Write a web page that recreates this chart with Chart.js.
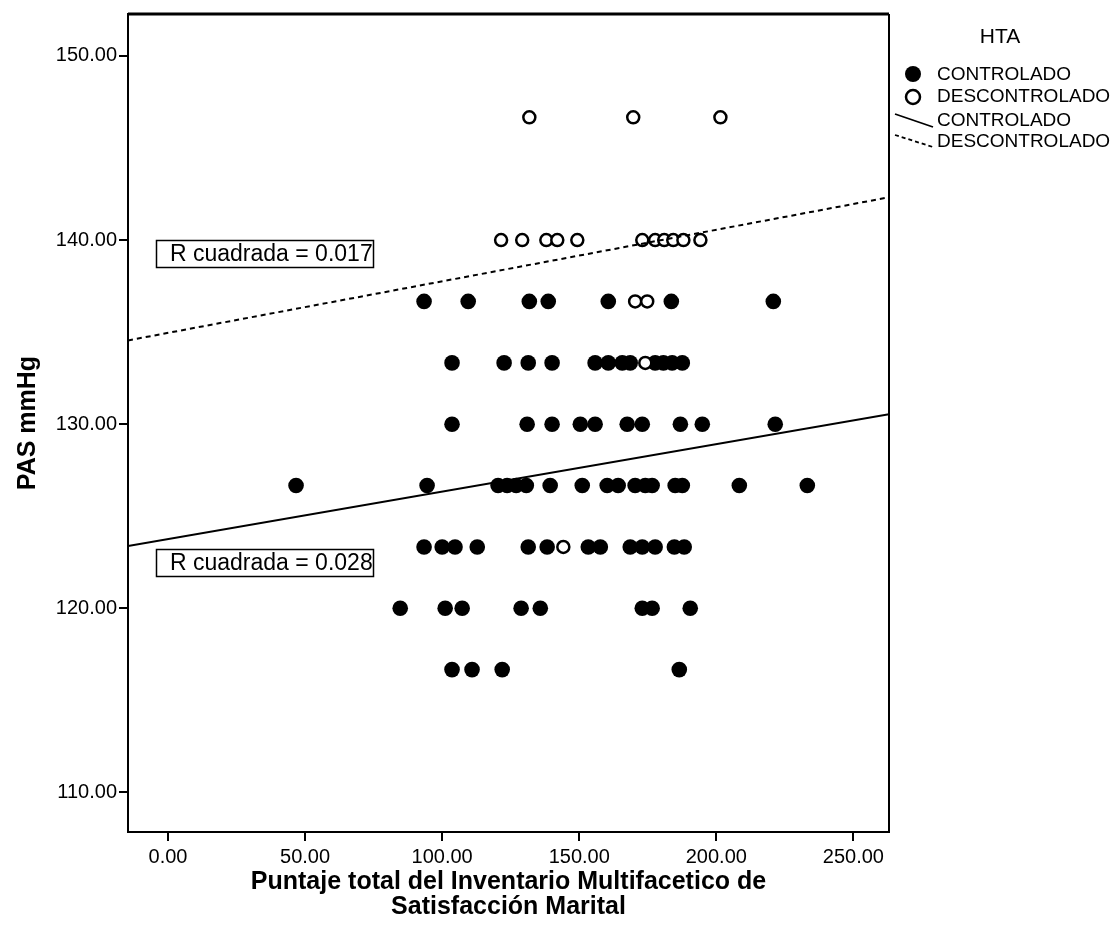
<!DOCTYPE html>
<html>
<head>
<meta charset="utf-8">
<script src="https://cdn.jsdelivr.net/npm/chart.js@4.4.0/dist/chart.umd.min.js"></script>
<style>
html,body{margin:0;padding:0;background:#ffffff;}
#wrap{width:1114px;height:945px;position:relative;}
</style>
</head>
<body>
<div id="wrap"><canvas id="c" width="1114" height="945"></canvas></div>
<script>
// ---------- DATA ----------
const groupNames = ['CONTROLADO', 'DESCONTROLADO'];
const legendTitle = 'HTA';
const xAxisTitle = ['Puntaje total del Inventario Multifacetico de', 'Satisfacción Marital'];
const yAxisTitle = 'PAS mmHg';
const xTickValues = [0, 50, 100, 150, 200, 250];
const yTickValues = [110, 120, 130, 140, 150];

// HTA controlada (filled points)
const controladoX = [
  93.4, 109.5, 131.8, 138.7, 160.6, 183.6, 220.8,
  103.6, 122.6, 131.4, 140.1, 155.8, 160.6, 165.7, 168.6, 177.7, 180.7, 183.9, 187.6,
  103.6, 131.0, 140.1, 150.4, 155.8, 167.5, 173.0, 186.9, 194.9, 221.5,
  46.7, 94.5, 120.4, 123.7, 127.0, 130.7, 139.4, 151.1, 160.2, 164.2, 170.4, 174.1, 176.6, 185.0, 187.6, 208.4, 233.2,
  93.4, 100.0, 104.7, 112.8, 131.4, 138.3, 153.3, 157.7, 168.6, 173.0, 177.7, 184.7, 188.3,
  84.7, 101.1, 107.3, 128.8, 135.8, 173.0, 176.6, 190.5,
  103.6, 110.9, 121.9, 186.5
];
const controladoY = [
  136.67, 136.67, 136.67, 136.67, 136.67, 136.67, 136.67,
  133.33, 133.33, 133.33, 133.33, 133.33, 133.33, 133.33, 133.33, 133.33, 133.33, 133.33, 133.33,
  130, 130, 130, 130, 130, 130, 130, 130, 130, 130,
  126.67, 126.67, 126.67, 126.67, 126.67, 126.67, 126.67, 126.67, 126.67, 126.67, 126.67, 126.67, 126.67, 126.67, 126.67, 126.67, 126.67,
  123.33, 123.33, 123.33, 123.33, 123.33, 123.33, 123.33, 123.33, 123.33, 123.33, 123.33, 123.33, 123.33,
  120, 120, 120, 120, 120, 120, 120, 120,
  116.67, 116.67, 116.67, 116.67
];

// HTA descontrolada (open points)
const descontroladoX = [
  131.8, 169.7, 201.5,
  121.5, 129.2, 138.0, 142.0, 149.3, 173.0, 177.7, 181.0, 184.3, 188.0, 194.2,
  170.4, 174.8,
  174.1,
  144.2
];
const descontroladoY = [
  146.67, 146.67, 146.67,
  140, 140, 140, 140, 140, 140, 140, 140, 140, 140, 140,
  136.67, 136.67,
  133.33,
  123.33
];

// Linear fit lines (intercept, slope) and R squared per group
const fitIntercept = [123.76, 134.96];
const fitSlope = [0.0258, 0.0280];
const rSquaredText = ['R cuadrada = 0.028', 'R cuadrada = 0.017'];

// ---------- CHART ----------
const X_MIN = -14.6, X_MAX = 263.0, Y_MIN = 107.85, Y_MAX = 152.28;
const FONT = '"Liberation Sans", Arial, sans-serif';

function toPoints(xs, ys) { return xs.map((x, i) => ({x: x, y: ys[i]})); }
function fitLine(g) {
  return [X_MIN, X_MAX].map(x => ({x: x, y: fitIntercept[g] + fitSlope[g] * x}));
}

const overlayPlugin = {
  id: 'overlay',
  afterDraw(chart) {
    const ctx = chart.ctx;
    const a = chart.chartArea;
    const ys = chart.scales.y;
    ctx.save();
    // frame (top and right edges)
    ctx.strokeStyle = '#000';
    ctx.lineWidth = 3;
    ctx.beginPath();
    ctx.moveTo(a.left, a.top);
    ctx.lineTo(a.right, a.top);
    ctx.stroke();
    ctx.lineWidth = 2;
    ctx.beginPath();
    ctx.moveTo(a.right, a.top);
    ctx.lineTo(a.right, a.bottom);
    ctx.stroke();

    // R squared boxes
    const boxTops = [123.2, 140.0];
    ctx.font = '23px ' + FONT;
    ctx.textBaseline = 'middle';
    ctx.textAlign = 'left';
    for (let g = 0; g < 2; g++) {
      const top = Math.round(ys.getPixelForValue(boxTops[g]));
      const left = a.left + 28;
      ctx.fillStyle = '#fff';
      ctx.fillRect(left, top, 217, 27);
      ctx.lineWidth = 1.5;
      ctx.strokeStyle = '#000';
      ctx.strokeRect(left + 0.5, top + 0.5, 217, 27);
      ctx.fillStyle = '#000';
      ctx.fillText(rSquaredText[g], left + 14, top + 15);
    }

    // legend
    ctx.fillStyle = '#000';
    ctx.textAlign = 'center';
    ctx.font = '21px ' + FONT;
    ctx.fillText(legendTitle, 1000, 37);
    ctx.textAlign = 'left';
    ctx.font = '19px ' + FONT;
    const tx = 937;
    const rows = [75, 97, 121, 142];
    // filled circle
    ctx.beginPath();
    ctx.arc(913, rows[0] - 1, 8, 0, Math.PI * 2);
    ctx.fill();
    ctx.fillText(groupNames[0], tx, rows[0]);
    // open circle
    ctx.beginPath();
    ctx.arc(913, rows[1], 7, 0, Math.PI * 2);
    ctx.lineWidth = 2.5;
    ctx.strokeStyle = '#000';
    ctx.stroke();
    ctx.fillText(groupNames[1], tx, rows[1]);
    // solid line
    ctx.lineWidth = 1.8;
    ctx.beginPath();
    ctx.moveTo(895, rows[2] - 7);
    ctx.lineTo(933, rows[2] + 6);
    ctx.stroke();
    ctx.fillText(groupNames[0], tx, rows[2]);
    // dashed line
    ctx.setLineDash([4, 3]);
    ctx.beginPath();
    ctx.moveTo(895, rows[3] - 7);
    ctx.lineTo(933, rows[3] + 5);
    ctx.stroke();
    ctx.setLineDash([]);
    ctx.fillText(groupNames[1], tx, rows[3]);
    ctx.restore();
  }
};

const axisCommon = {
  grid: { display: true, drawOnChartArea: false, drawTicks: true, tickLength: 9, color: '#000', lineWidth: 2 },
  border: { display: true, color: '#000', width: 2 }
};

new Chart(document.getElementById('c'), {
  type: 'scatter',
  data: {
    datasets: [
      {
        label: groupNames[1] + ' fit', type: 'line', data: fitLine(1),
        borderColor: '#000', borderWidth: 2, borderDash: [5, 4], pointRadius: 0, fill: false, order: 1
      },
      {
        label: groupNames[0] + ' fit', type: 'line', data: fitLine(0),
        borderColor: '#000', borderWidth: 2, pointRadius: 0, fill: false, order: 1
      },
      {
        label: groupNames[1], data: toPoints(descontroladoX, descontroladoY),
        pointRadius: 6, pointBorderWidth: 2.5, pointBackgroundColor: '#fff', pointBorderColor: '#000', order: 2
      },
      {
        label: groupNames[0], data: toPoints(controladoX, controladoY),
        pointRadius: 7.8, pointBorderWidth: 0, pointBackgroundColor: '#000', pointBorderColor: '#000', order: 3
      }
    ]
  },
  options: {
    responsive: false,
    animation: false,
    devicePixelRatio: 1,
    layout: { padding: { top: 12, right: 225, left: 0, bottom: 0 } },
    plugins: { legend: { display: false }, tooltip: { enabled: false } },
    scales: {
      x: Object.assign({}, axisCommon, {
        type: 'linear', min: X_MIN, max: X_MAX,
        afterFit(s) { s.height = 113; },
        afterBuildTicks(s) { s.ticks = xTickValues.map(v => ({value: v})); },
        ticks: { color: '#000', font: { family: FONT, size: 20 }, padding: 4, maxRotation: 0,
                 callback: v => Number(v).toFixed(2) },
        title: { display: true, text: xAxisTitle, color: '#000',
                 font: { family: FONT, size: 25, weight: 'bold', lineHeight: '25px' },
                 padding: { top: 0, bottom: 25 } }
      }),
      y: Object.assign({}, axisCommon, {
        type: 'linear', min: Y_MIN, max: Y_MAX,
        afterFit(s) { s.width = 128; },
        afterBuildTicks(s) { s.ticks = yTickValues.map(v => ({value: v})); },
        ticks: { color: '#000', font: { family: FONT, size: 20 }, padding: 2,
                 callback: v => Number(v).toFixed(2) },
        title: { display: true, text: yAxisTitle, color: '#000',
                 font: { family: FONT, size: 25, weight: 'bold', lineHeight: 1.2 },
                 padding: { top: 13, bottom: 0 } }
      })
    }
  },
  plugins: [overlayPlugin]
});
</script>
</body>
</html>
